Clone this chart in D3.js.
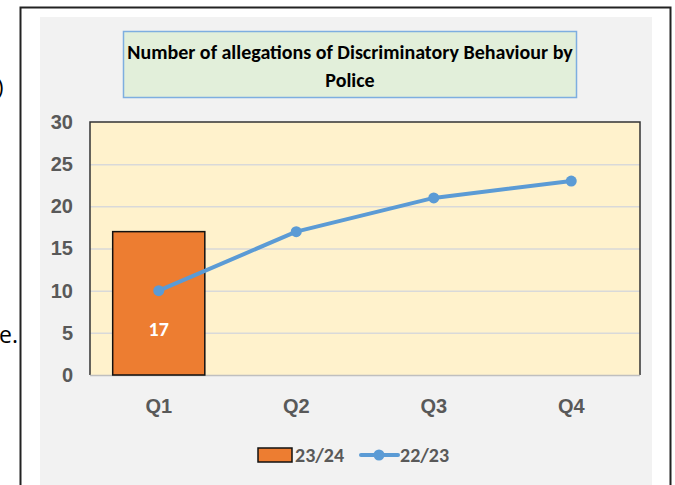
<!DOCTYPE html>
<html>
<head>
<meta charset="utf-8">
<script src="https://cdn.jsdelivr.net/npm/d3@7"></script>
<style>
  body { margin: 0; background: #fff; }
  svg { display: block; font-family: Carlito, Calibri, Lato, "Open Sans", sans-serif; }
</style>
</head>
<body>
<svg id="chart"></svg>
<script>
// chart data
const quarters = ['Q1', 'Q2', 'Q3', 'Q4'];
const barValues = [17, null, null, null];   // 23/24
const lineValues = [10, 17, 21, 23];        // 22/23
const yTicks = [0, 5, 10, 15, 20, 25, 30];
const seriesNames = ['23/24', '22/23'];
const titleLines = ['Number of allegations of Discriminatory Behaviour by', 'Police'];

const W = 675, H = 485;
const margin = {top: 122, right: 35, bottom: 110, left: 90};
const width = W - margin.left - margin.right;
const height = H - margin.top - margin.bottom;
const fs = 20;

const svg = d3.select('#chart')
    .attr('width', W)
    .attr('height', H);

// stray text from the surrounding document (cut by the crop)
svg.append('text').attr('x', -3).attr('y', 95)
    .attr('font-family', '"Open Sans", sans-serif')
    .attr('font-size', 22).attr('fill', '#000').text(')');
svg.append('text').attr('x', -1).attr('y', 343)
    .attr('font-family', '"Open Sans", sans-serif')
    .attr('font-size', 23).attr('fill', '#000').text('e.');

// outer frame + chart area background
svg.append('path')
    .attr('d', `M20.5,${H} V7.5 H670.5 V${H}`)
    .attr('fill', 'none').attr('stroke', '#222').attr('stroke-width', 2);
svg.append('rect')
    .attr('x', 40).attr('y', 17).attr('width', 612).attr('height', H - 17)
    .attr('fill', '#f2f2f2');

// title box
svg.append('rect')
    .attr('x', 123.5).attr('y', 31.5).attr('width', 453).attr('height', 66)
    .attr('fill', '#e2efda').attr('stroke', '#7eaee0').attr('stroke-width', 1.5);
svg.append('text')
    .attr('x', 350).attr('y', 52)
    .attr('text-anchor', 'middle')
    .attr('dominant-baseline', 'central')
    .attr('font-size', fs).attr('font-weight', 'bold').attr('fill', '#000')
    .selectAll('tspan').data(titleLines).join('tspan')
    .attr('x', 350).attr('dy', (d, i) => i === 0 ? 0 : 28)
    .text(d => d);

const g = svg.append('g').attr('transform', `translate(${margin.left},${margin.top})`);

const x = d3.scaleBand().domain(quarters).range([0, width]);
const y = d3.scaleLinear().domain([0, 30]).range([height, 0]);

// plot background
g.append('rect')
    .attr('width', width).attr('height', height)
    .attr('fill', '#fff2cc');

// gridlines
g.append('g')
    .selectAll('line').data(yTicks.filter(d => d > 0 && d < 30)).join('line')
    .attr('x1', 0).attr('x2', width)
    .attr('y1', d => y(d) + 0.5).attr('y2', d => y(d) + 0.5)
    .attr('stroke', '#d9d9d9').attr('stroke-width', 1.5);

// plot border (top, left, right)
g.append('path')
    .attr('d', `M0,${height} V0 H${width} V${height}`)
    .attr('fill', 'none').attr('stroke', '#333').attr('stroke-width', 1.5);
g.append('line')
    .attr('x1', 0).attr('x2', width).attr('y1', height + 0.5).attr('y2', height + 0.5)
    .attr('stroke', '#bfbfbf').attr('stroke-width', 1.5);

// y axis
const yAxis = g.append('g')
    .call(d3.axisLeft(y).tickValues(yTicks).tickSize(0).tickPadding(17));
yAxis.select('.domain').remove();
yAxis.selectAll('text')
    .attr('font-family', null)
    .attr('font-size', fs).attr('font-weight', 'bold').attr('fill', '#595959');

// x axis
const xAxis = g.append('g')
    .attr('transform', `translate(0,${height})`)
    .call(d3.axisBottom(x).tickSize(0).tickPadding(24));
xAxis.select('.domain').remove();
xAxis.selectAll('text')
    .attr('font-family', null)
    .attr('font-size', fs).attr('font-weight', 'bold').attr('fill', '#595959');

// bars
const barW = x.bandwidth() * 0.67;
const barData = quarters.map((q, i) => ({q, v: barValues[i]})).filter(d => d.v != null);
g.selectAll('.bar').data(barData).join('rect')
    .attr('class', 'bar')
    .attr('x', d => x(d.q) + (x.bandwidth() - barW) / 2)
    .attr('y', d => y(d.v))
    .attr('width', barW)
    .attr('height', d => height - y(d.v))
    .attr('fill', '#ed7d31').attr('stroke', '#111').attr('stroke-width', 1.5);

// bar labels
g.selectAll('.bar-label').data(barData).join('text')
    .attr('class', 'bar-label')
    .attr('x', d => x(d.q) + x.bandwidth() / 2)
    .attr('y', y(5.4))
    .attr('text-anchor', 'middle').attr('dominant-baseline', 'central')
    .attr('font-size', fs).attr('font-weight', 'bold').attr('fill', '#fff')
    .text(d => d.v);

// line
const lineData = quarters.map((q, i) => ({q, v: lineValues[i]}));
const cx = d => x(d.q) + x.bandwidth() / 2;
g.append('path')
    .datum(lineData)
    .attr('fill', 'none').attr('stroke', '#5b9bd5').attr('stroke-width', 4)
    .attr('stroke-linejoin', 'round')
    .attr('d', d3.line().x(cx).y(d => y(d.v)));
g.selectAll('.dot').data(lineData).join('circle')
    .attr('class', 'dot')
    .attr('cx', cx).attr('cy', d => y(d.v)).attr('r', 5.5)
    .attr('fill', '#5b9bd5');

// legend
const leg = svg.append('g').attr('transform', 'translate(0,455)');
leg.append('rect')
    .attr('x', 258).attr('y', -7).attr('width', 34).attr('height', 14)
    .attr('fill', '#ed7d31').attr('stroke', '#111').attr('stroke-width', 1.5);
leg.append('text').attr('x', 295).attr('y', 0).attr('dominant-baseline', 'central')
    .attr('font-size', fs).attr('font-weight', 'bold').attr('fill', '#595959')
    .text(seriesNames[0]);
leg.append('line')
    .attr('x1', 361).attr('x2', 398).attr('y1', 0).attr('y2', 0)
    .attr('stroke', '#5b9bd5').attr('stroke-width', 4).attr('stroke-linecap', 'round');
leg.append('circle').attr('cx', 379).attr('cy', 0).attr('r', 5.5).attr('fill', '#5b9bd5');
leg.append('text').attr('x', 400).attr('y', 0).attr('dominant-baseline', 'central')
    .attr('font-size', fs).attr('font-weight', 'bold').attr('fill', '#595959')
    .text(seriesNames[1]);
</script>
</body>
</html>
